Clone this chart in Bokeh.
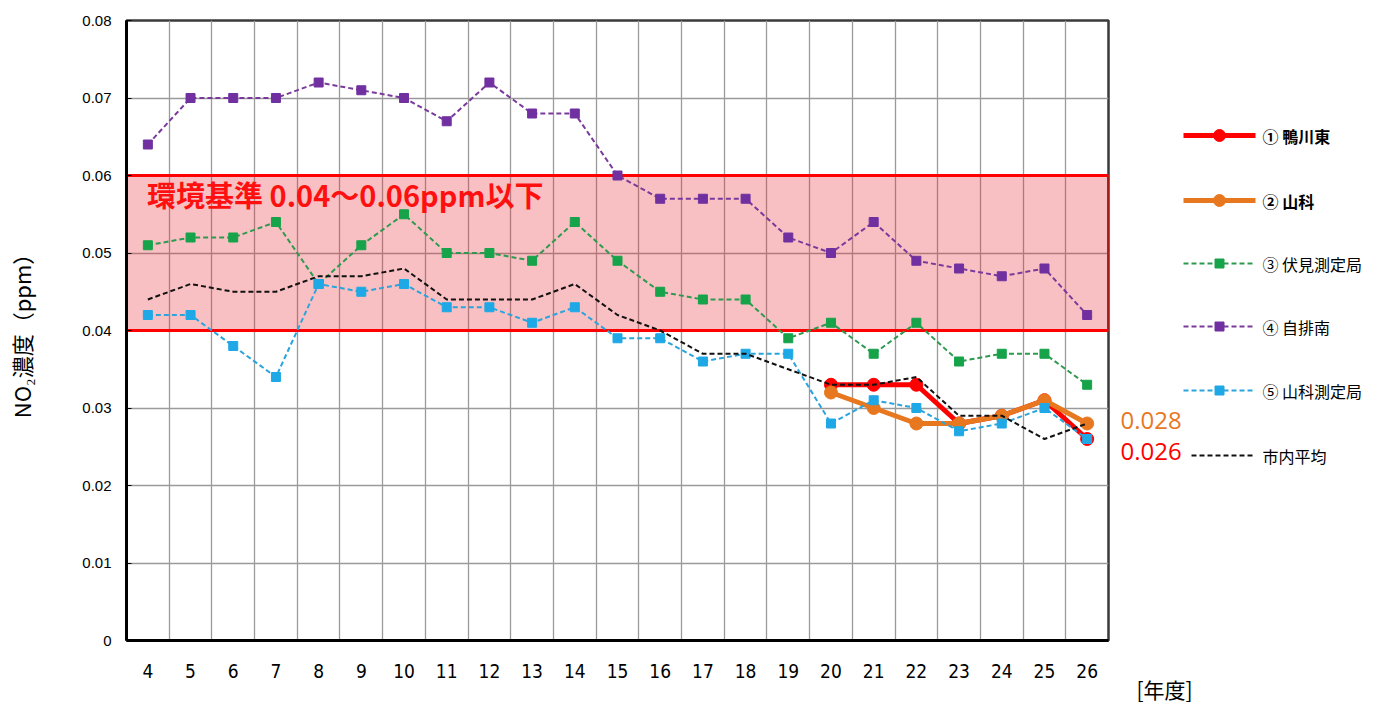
from bokeh.plotting import figure
from bokeh.layouts import row
from bokeh.models import FixedTicker, CustomJSTickFormatter, Range1d
from bokeh.core.properties import value
from bokeh.embed import file_html
from bokeh.resources import INLINE

# ---- data ----
years = [4, 5, 6, 7, 8, 9, 10, 11, 12, 13, 14, 15, 16, 17, 18, 19, 20, 21, 22, 23, 24, 25, 26]
fushimi = [0.051, 0.052, 0.052, 0.054, 0.046, 0.051, 0.055, 0.050, 0.050, 0.049, 0.054, 0.049,
           0.045, 0.044, 0.044, 0.039, 0.041, 0.037, 0.041, 0.036, 0.037, 0.037, 0.033]
jihainan = [0.064, 0.070, 0.070, 0.070, 0.072, 0.071, 0.070, 0.067, 0.072, 0.068, 0.068, 0.060,
            0.057, 0.057, 0.057, 0.052, 0.050, 0.054, 0.049, 0.048, 0.047, 0.048, 0.042]
yamashina_st = [0.042, 0.042, 0.038, 0.034, 0.046, 0.045, 0.046, 0.043, 0.043, 0.041, 0.043, 0.039,
                0.039, 0.036, 0.037, 0.037, 0.028, 0.031, 0.030, 0.027, 0.028, 0.030, 0.026]
city_avg = [0.044, 0.046, 0.045, 0.045, 0.047, 0.047, 0.048, 0.044, 0.044, 0.044, 0.046, 0.042,
            0.040, 0.037, 0.037, 0.035, 0.033, 0.033, 0.034, 0.029, 0.029, 0.026, 0.028]
years_new = [20, 21, 22, 23, 24, 25, 26]
kamogawa = [0.033, 0.033, 0.033, 0.028, 0.029, 0.031, 0.026]
yamashina = [0.032, 0.030, 0.028, 0.028, 0.029, 0.031, 0.028]
y_ticks = [0, 0.01, 0.02, 0.03, 0.04, 0.05, 0.06, 0.07, 0.08]
std_low, std_high = 0.04, 0.06
std_text = "環境基準 0.04～0.06ppm以下"
series_names = ["① 鴨川東", "② 山科", "③ 伏見測定局", "④ 自排南", "⑤ 山科測定局", "市内平均"]
end_labels = ["0.028", "0.026"]
x_unit = "[年度]"

JP = "Noto Sans CJK JP"
AR = "Liberation Sans"

RED, ORANGE = "#ff0000", "#e8781f"
GREEN_L, GREEN_M = "#2e9a50", "#16a34a"
PURPLE_L, PURPLE_M = "#7a3a9c", "#7030a0"
BLUE_L, BLUE_M = "#2aa4dc", "#1ea8e6"
BLACK_L = "#111111"
DASH = "5 3"

FRAME_W, FRAME_H = 982, 620
TOP, LEFT, BOTTOM = 20, 126, 62
Y0, Y1 = 0, 0.08

p = figure(frame_width=FRAME_W, frame_height=FRAME_H,
           min_border_left=LEFT, min_border_top=TOP, min_border_right=4, min_border_bottom=BOTTOM,
           x_range=Range1d(3.5, 26.5), y_range=Range1d(Y0, Y1),
           output_backend="svg", toolbar_location=None)
p.background_fill_color = "white"
p.border_fill_color = "white"
p.outline_line_color = "#3a3a3a"
p.outline_line_width = 2.5

# grids
p.xgrid.ticker = FixedTicker(ticks=[y + 0.5 for y in years[:-1]])
p.ygrid.ticker = FixedTicker(ticks=y_ticks)
for g in (p.xgrid, p.ygrid):
    g.grid_line_color = "#9a9a9a"
    g.grid_line_width = 1.3

# axes
p.xaxis.ticker = FixedTicker(ticks=years)
p.xaxis.major_tick_line_color = None
p.xaxis.minor_tick_line_color = None
p.xaxis.major_label_text_font = "Liberation Sans Narrow, DejaVu Sans Condensed, Liberation Sans"
p.xaxis.major_label_text_font_size = "19px"
p.xaxis.major_label_text_color = "black"
p.xaxis.major_label_standoff = 17
p.xaxis.axis_line_color = "black"
p.xaxis.axis_line_width = 3

p.yaxis.ticker = FixedTicker(ticks=y_ticks)
p.yaxis.formatter = CustomJSTickFormatter(code="return tick == 0 ? '0' : tick.toFixed(2);")
p.yaxis.major_tick_in = 5
p.yaxis.major_tick_out = 0
p.yaxis.minor_tick_line_color = None
p.yaxis.major_label_text_font = AR
p.yaxis.major_label_text_font_size = "15px"
p.yaxis.major_label_text_color = "black"
p.yaxis.major_label_standoff = 15
p.yaxis.axis_line_color = "black"
p.yaxis.axis_line_width = 3
p.yaxis.axis_label = "NO₂濃度（ppm）"
p.yaxis.axis_label_text_font = JP
p.yaxis.axis_label_text_font_style = "normal"
p.yaxis.axis_label_text_font_size = "22px"
p.yaxis.axis_label_text_color = "black"
p.yaxis.axis_label_standoff = 42

# environmental standard band
p.quad(left=[3.5], right=[26.5], bottom=[std_low], top=[std_high],
       fill_color="#e83038", fill_alpha=0.3, line_color=RED, line_width=3)
p.text(x=[3.98], y=[(std_low + std_high) / 2 + 0.0076], text=[std_text],
       text_font=value(JP), text_font_style="bold", text_font_size="29px",
       text_color="#ff1010", text_baseline="middle", text_align="left")

# series
p.line(years_new, kamogawa, line_color=RED, line_width=5)
p.scatter(years_new, kamogawa, marker="circle", size=13, fill_color=RED, line_color=RED)
p.line(years_new, yamashina, line_color=ORANGE, line_width=5)
p.scatter(years_new, yamashina, marker="circle", size=13, fill_color=ORANGE, line_color=ORANGE)
p.line(years, fushimi, line_color=GREEN_L, line_width=2, line_dash=DASH)
p.scatter(years, fushimi, marker="square", size=9, fill_color=GREEN_M, line_color=GREEN_M)
p.line(years, jihainan, line_color=PURPLE_L, line_width=2, line_dash=DASH)
p.scatter(years, jihainan, marker="square", size=9, fill_color=PURPLE_M, line_color=PURPLE_M)
p.line(years, yamashina_st, line_color=BLUE_L, line_width=2, line_dash=DASH)
p.scatter(years, yamashina_st, marker="square", size=9, fill_color=BLUE_M, line_color=BLUE_M)
p.line(years, city_avg, line_color=BLACK_L, line_width=2, line_dash=DASH)

# ---- side panel: legend, end labels, x unit ----
# x in pixels, y in the same data units as the main chart (frames are aligned by the row)
SIDE_W = 266
s = figure(frame_width=SIDE_W, frame_height=FRAME_H, min_border=0,
           min_border_top=TOP, min_border_bottom=BOTTOM,
           x_range=Range1d(0, SIDE_W), y_range=Range1d(Y0, Y1),
           output_backend="svg", toolbar_location=None)
s.yaxis.visible = False
s.grid.visible = False
s.outline_line_color = None
s.background_fill_color = "white"
s.border_fill_color = "white"
UNIT_X = 52
s.xaxis.ticker = FixedTicker(ticks=[UNIT_X])
s.xaxis.major_label_overrides = {UNIT_X: x_unit}
s.xaxis.axis_line_color = None
s.xaxis.major_tick_line_color = None
s.xaxis.minor_tick_line_color = None
s.xaxis.major_label_text_font = JP
s.xaxis.major_label_text_font_size = "21px"
s.xaxis.major_label_text_color = "black"
s.xaxis.major_label_standoff = 27

units_per_px = (Y1 - Y0) / FRAME_H
def px_to_y(px):
    return Y1 - (px - TOP) * units_per_px

legend_rows = [135, 200, 263, 326, 390, 455]
styles = [
    dict(lc=RED, lw=5, dash="solid", mk="circle", mc=RED, ms=12, bold=True),
    dict(lc=ORANGE, lw=5, dash="solid", mk="circle", mc=ORANGE, ms=12, bold=True),
    dict(lc=GREEN_L, lw=2, dash=DASH, mk="square", mc=GREEN_M, ms=9, bold=False),
    dict(lc=PURPLE_L, lw=2, dash=DASH, mk="square", mc=PURPLE_M, ms=9, bold=False),
    dict(lc=BLUE_L, lw=2, dash=DASH, mk="square", mc=BLUE_M, ms=9, bold=False),
    dict(lc=BLACK_L, lw=2, dash=DASH, mk=None, mc=None, ms=0, bold=False),
]
G0, G1, TX = 71, 143, 150
for name, row_px, st in zip(series_names, legend_rows, styles):
    yy = px_to_y(row_px)
    g0 = G0 if st["mk"] is not None else G0 + 8
    s.line([g0, G1], [yy, yy], line_color=st["lc"], line_width=st["lw"], line_dash=st["dash"])
    if st["mk"] is not None:
        s.scatter([(G0 + G1) / 2], [yy], marker=st["mk"], size=st["ms"],
                  fill_color=st["mc"], line_color=st["mc"])
    s.text([TX], [yy], text=[name], text_font=value(JP),
           text_font_style="bold" if st["bold"] else "normal",
           text_font_size="16px", text_color="black", text_baseline="middle")

s.text([8], [yamashina[-1] + 3 * units_per_px], text=[end_labels[0]], text_font=value("Open Sans"),
       text_font_size="24px", text_color=ORANGE, text_baseline="middle")
s.text([8], [kamogawa[-1] - 12 * units_per_px], text=[end_labels[1]], text_font=value("Open Sans"),
       text_font_size="24px", text_color=RED, text_baseline="middle")

layout = row(p, s, spacing=0)
open("out.html", "w").write(file_html(layout, INLINE))
